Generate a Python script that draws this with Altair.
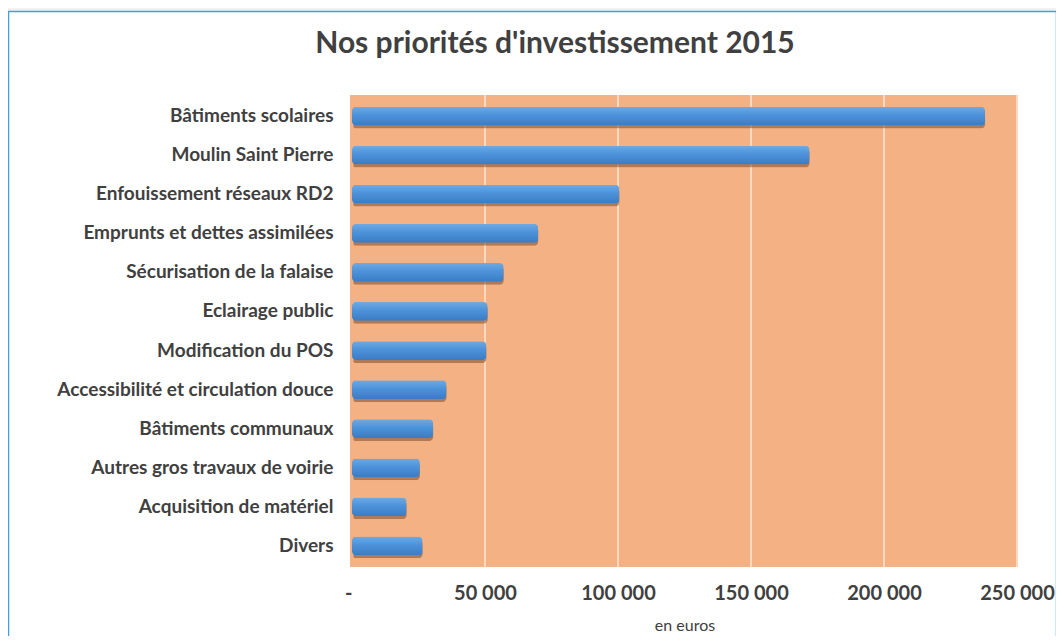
import altair as alt
import pandas as pd

categories = [
    "Bâtiments scolaires",
    "Moulin Saint Pierre",
    "Enfouissement réseaux RD2",
    "Emprunts et dettes assimilées",
    "Sécurisation de la falaise",
    "Eclairage public",
    "Modification du POS",
    "Accessibilité et circulation douce",
    "Bâtiments communaux",
    "Autres gros travaux de voirie",
    "Acquisition de matériel",
    "Divers",
]
values = [238000, 172000, 100500, 70000, 57000, 51000, 50500, 35500, 30500, 25500, 20500, 26500]
x_ticks = [0, 50000, 100000, 150000, 200000, 250000]
title_text = "Nos priorités d'investissement 2015"
x_title = "en euros"

df = pd.DataFrame({"poste": categories, "montant": values})
ticks_df = pd.DataFrame({"t": x_ticks[1:]})
one = pd.DataFrame({"a": [0]})

W, H = 665, 472
FONT = "Lato"
TXT = "#404040"

x_scale = alt.Scale(domain=[0, 250000], nice=False)
y_scale = alt.Scale(paddingInner=0.52, paddingOuter=0.3)

x_axis = alt.Axis(
    values=x_ticks,
    labelExpr="datum.value == 0 ? '-' : replace(format(datum.value, ','), ',', ' ')",
    labelFont=FONT, labelFontSize=20, labelFontWeight="bold", labelColor=TXT,
    labelPadding=16, labelFlush=False,
    labelAlign={"condition": {"test": "datum.value == 0", "value": "right"}, "value": "center"},
    title=x_title, titleFont=FONT, titleFontSize=16, titleFontWeight="normal",
    titleColor=TXT, titlePadding=14,
    grid=False, ticks=False, domain=False, zindex=2,
)
y_axis = alt.Axis(
    title=None, labelFont=FONT, labelFontSize=19, labelFontWeight="bold",
    labelColor=TXT, labelPadding=19, ticks=False, domain=False, grid=False,
    labelLimit=400, zindex=2,
)

panel = alt.Chart(one).mark_rect(fill="white", stroke="#3DA3DE", strokeWidth=1.5).encode(
    x=alt.value(-343.5), x2=alt.value(704.5), y=alt.value(-83.5), y2=alt.value(700)
)
plot_bg = alt.Chart(one).mark_rect(fill="#F4B183").encode(
    x=alt.value(-2), x2=alt.value(W + 1), y=alt.value(0), y2=alt.value(H)
)
grid = alt.Chart(ticks_df).mark_rule(color="#FDEBDD", strokeWidth=1.6, opacity=0.85).encode(
    x=alt.X("t:Q", scale=x_scale),
    y=alt.value(0), y2=alt.value(H),
)

bar_gradient = {
    "gradient": "linear", "x1": 0, "y1": 0, "x2": 0, "y2": 1,
    "stops": [
        {"offset": 0, "color": "#6FAAE2"},
        {"offset": 0.45, "color": "#4C92DA"},
        {"offset": 1, "color": "#3A7CC4"},
    ],
}

base = alt.Chart(df).encode(
    y=alt.Y("poste:N", sort=None, scale=y_scale, axis=y_axis),
    x=alt.X("montant:Q", scale=x_scale, axis=x_axis),
)
shadow = base.mark_bar(color="#7A4B2E", opacity=0.55, yOffset=3, xOffset=1.5, cornerRadius=4)
bars = base.mark_bar(fill=bar_gradient, cornerRadius=4)

title = alt.Chart(one).mark_text(
    text=title_text, font=FONT, fontSize=30, fontWeight="bold", color=TXT,
    align="center", baseline="middle",
).encode(x=alt.value(203), y=alt.value(-51))

chart = alt.layer(panel, plot_bg, grid, shadow, bars, title).properties(
    width=W, height=H,
    autosize=alt.AutoSizeParams(type="none"),
    padding={"left": 344, "top": 87, "right": 1048 - 344 - W, "bottom": 628 - 87 - H},
    background="#F2F1EF",
).configure_view(stroke=None)

chart.save("out.html", embed_options={"renderer": "svg", "actions": False})
